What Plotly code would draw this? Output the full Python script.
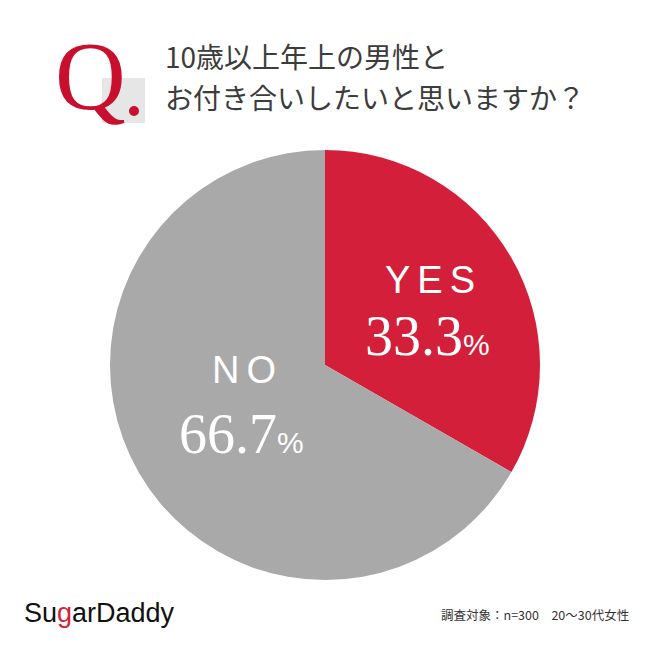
import plotly.graph_objects as go

labels = ["YES", "NO"]
values = [33.3, 66.7]
colors = ["#D41F3A", "#A9A9A9"]
title_lines = ["10歳以上年上の男性と", "お付き合いしたいと思いますか？"]
footnote = "調査対象：n=300　20～30代女性"

fig = go.Figure()
fig.add_trace(go.Pie(
    labels=labels, values=values, sort=False, direction="clockwise", rotation=0,
    marker=dict(colors=colors, line=dict(width=0)),
    textinfo="none", hoverinfo="label+percent", showlegend=False,
    domain=dict(x=[(325-215)/650, (325+215)/650], y=[(285-215)/650, (285+215)/650]),
))

def px(x): return x/650
def py(y): return 1 - y/650

anns = []
# labels: (x of label, y of label, x of value, y of value)
pos = {"YES": (433, 280, 427, 336), "NO": (247, 370, 241, 434)}
for lab, val in zip(labels, values):
    x1, y1, x2, y2 = pos[lab]
    anns.append(dict(x=px(x1), y=py(y1), text=f"<span style='letter-spacing:7px'>{lab}</span>",
                     font=dict(family="Liberation Sans, Arial", size=38, color="white")))
    anns.append(dict(x=px(x2), y=py(y2),
                     text=f"{val:.1f}<span style='font-family:Liberation Sans;font-size:30px'>%</span>",
                     font=dict(family="Liberation Serif, Times New Roman", size=56, color="white")))
# title
for i, t in enumerate(title_lines):
    anns.append(dict(x=px(163), y=py(56.5 + i*40.5), text=t, xanchor="left",
                     font=dict(family="Noto Sans CJK JP", size=28, color="#3C3C3C")))
# Q logo
anns.append(dict(x=px(90), y=py(76), text="Q", font=dict(family="Liberation Serif", size=98, color="#C8102E")))
# footer
anns.append(dict(x=px(22), y=py(613), xanchor="left",
                 text="Su<span style='color:#D41F3A'>g</span>arDaddy",
                 font=dict(family="Liberation Sans, Arial", size=27, color="#111111")))
anns.append(dict(x=px(631), y=py(614), xanchor="right", text=footnote,
                 font=dict(family="Noto Sans CJK JP", size=12.5, color="#333333")))
for a in anns:
    a.update(xref="paper", yref="paper", showarrow=False)
    a.setdefault("xanchor", "center")
    a.setdefault("yanchor", "middle")

fig.update_layout(
    width=650, height=650, margin=dict(l=0, r=0, t=0, b=0),
    paper_bgcolor="white", plot_bgcolor="white",
    annotations=anns,
    shapes=[
        dict(type="rect", xref="paper", yref="paper", layer="below",
             x0=px(102), x1=px(145), y0=py(123), y1=py(78),
             fillcolor="#E6E6E6", line=dict(width=0)),
        dict(type="circle", xref="paper", yref="paper", layer="above",
             x0=px(129), x1=px(139), y0=py(116), y1=py(106),
             fillcolor="#C8102E", line=dict(width=0)),
    ],
)
fig.write_html("out.html", config={"displayModeBar": False},
               post_script="document.body.style.margin='0';document.body.style.overflow='hidden';")
